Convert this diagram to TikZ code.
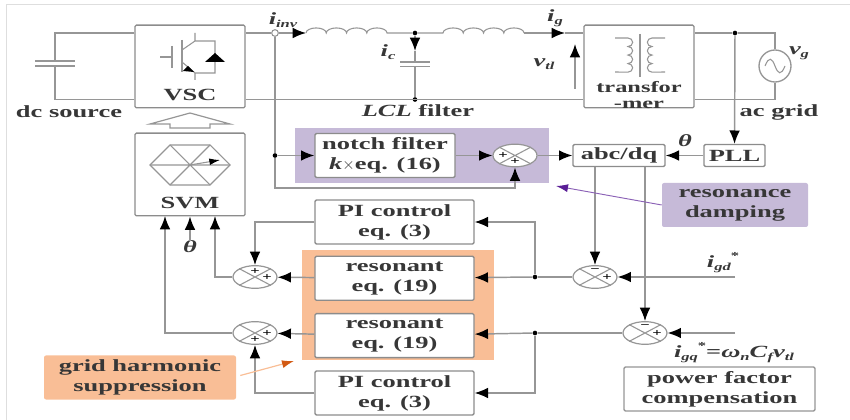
\documentclass[tikz,border=0pt]{standalone}
\usepackage{fontspec}
\setmainfont[FakeStretch=1.55]{Liberation Serif}
\usepackage{xcolor}
\definecolor{inkdark}{RGB}{55,55,55}
\definecolor{linegray}{RGB}{150,150,150}
\definecolor{boxgray}{RGB}{140,140,140}
\definecolor{framegray}{RGB}{222,222,222}
\definecolor{dampfill}{RGB}{198,186,216}
\definecolor{suppfill}{RGB}{249,190,150}
\definecolor{damptip}{RGB}{90,30,150}
\definecolor{supptip}{RGB}{210,90,20}
\usetikzlibrary{arrows.meta,positioning,shapes.geometric}
\newcommand{\varlbl}[2]{{\bfseries\itshape #1}\raisebox{-.4ex}{\footnotesize\bfseries\itshape #2}}
\newcommand{\sumcross}[1]{\draw[thinwire] (#1.north west) -- (#1.south east) (#1.north east) -- (#1.south west);}
\tikzset{
  wire/.style={draw=linegray,line width=1.1pt},
  thinwire/.style={draw=linegray,line width=.8pt},
  flow/.style={wire,-{Latex[black,length=10pt,width=8pt]}},
  lbl/.style={font=\fontsize{12.8}{15}\selectfont\bfseries,text=inkdark,inner sep=0pt,align=center},
  ctrl/.style={lbl,draw=boxgray,line width=1pt,fill=white,rounded corners=1pt,minimum width=119.25pt,minimum height=33pt},
  power/.style={ctrl,minimum width=82.5pt,minimum height=62pt},
  zone/.style={inner sep=0pt,anchor=north west},
  callout/.style={lbl,rounded corners=1.5pt,minimum height=33pt},
  sumpt/.style={ellipse,draw=linegray,line width=.9pt,fill=white,minimum width=33pt,minimum height=17pt,inner sep=0pt},
  dot/.style={circle,fill=black,inner sep=0pt,minimum size=3.5pt},
  sign/.style={font=\fontsize{8}{8}\selectfont\bfseries,text=black,inner sep=0pt},
}
\begin{document}
\begin{tikzpicture}[x=.75pt,y=-.75pt]
\useasboundingbox (0,0) rectangle (850,420);
\draw[framegray,line width=.8pt] (6.5,420) -- (6.5,4.5) -- (850,4.5);
% shaded groups
\node[zone,fill=dampfill,minimum width=190.5pt,minimum height=41.25pt] (dampzone) at (295,128) {};
\node[zone,fill=suppfill,minimum width=144pt,minimum height=82.5pt] (suppzone) at (302,250) {};
% power stage
\node[power] (vsc) at (190,66.5) {};
\node[lbl] (vsclbl) at (190,95) {VSC};
\node[power] (svm) at (190,174.5) {};
\node[lbl] (svmlbl) at (190,203) {SVM};
\node[power] (xfmr) at (639,66.5) {};
\node[lbl,font=\fontsize{11.8}{11.5}\selectfont\bfseries] (xfmrlbl) at (639,95) {transfor\\-mer};
\node[lbl] (dclbl) at (69,112) {dc source};
\node[lbl] (lcllbl) at (418,111) {\textit{LCL} filter};
\node[lbl] (aclbl) at (779,112) {ac grid};
\node[circle,draw=linegray,line width=1pt,minimum size=24pt,inner sep=0pt] (acsrc) at (775,66) {};
\node[circle,draw=linegray,line width=.8pt,fill=white,inner sep=0pt,minimum size=5pt] (tap) at (275,33) {};
\node[dot] (jcap) at (415,33) {};
\node[dot] (jret) at (415,99.5) {};
\node[dot] (jgrid) at (735,33) {};
\node[dot] (jnotch) at (275,155.5) {};
\node[lbl] (iinv) at (283,20) {\varlbl{i}{inv}};
\node[lbl] (ig) at (555,18) {\varlbl{i}{g}};
\node[lbl] (ic) at (388,52) {\varlbl{i}{c}};
\node[lbl] (vtl) at (544,64) {\varlbl{v}{tl}};
\node[lbl] (vg) at (799,53) {\varlbl{v}{g}};
% control blocks
\node[ctrl,minimum width=105pt] (notch) at (385,155.5) {notch filter\\\textit{k}$\times$eq. (16)};
\node[sumpt] (sumn) at (515,155.5) {};
\node[ctrl,minimum width=69pt,minimum height=16.5pt] (abcdq) at (619,155.5) {abc/dq};
\node[ctrl,minimum width=45.75pt,minimum height=16.5pt] (pll) at (734.5,155.5) {PLL};
\node[lbl] (thpll) at (685,141) {\textit{θ}};
\node[ctrl] (pia) at (394.5,222) {PI control\\eq. (3)};
\node[ctrl,below=8.25pt of pia] (resa) {resonant\\eq. (19)};
\node[ctrl,below=9pt of resa] (resb) {resonant\\eq. (19)};
\node[ctrl,below=9pt of resb] (pib) {PI control\\eq. (3)};
\node[sumpt] (suma) at (255,277) {};
\node[sumpt] (sumb) at (255,333) {};
\node[sumpt] (sumc) at (595,277) {};
\node[sumpt] (sumd) at (645,333) {};
\node[dot] (jres) at (535,277) {};
\node[dot] (jpib) at (535,333) {};
\node[lbl] (thsvm) at (190,247) {\textit{θ}};
\node[lbl] (igd) at (723,263) {\varlbl{i}{gd}\raisebox{1ex}{\footnotesize *}};
\node[lbl] (igq) at (734,353) {\varlbl{i}{gq}\raisebox{1ex}{\footnotesize *}{\bfseries =}\textit{ω}\raisebox{-.4ex}{\footnotesize\itshape n}\textit{C}\raisebox{-.4ex}{\footnotesize\itshape f}\varlbl{v}{tl}};
\node[ctrl,draw=linegray,minimum width=143.25pt] (pfc) at (719.5,389) {power factor\\compensation};
\node[callout,fill=dampfill,minimum width=109.5pt] (dampnote) at (735,205) {resonance\\damping};
\node[callout,fill=suppfill,minimum width=144pt] (suppnote) at (140,377.5) {grid harmonic\\suppression};
\foreach \s in {sumn,suma,sumb,sumc,sumd}{\sumcross{\s}}
\node[sign] (sna) at (503,155) {+};
\node[sign] (snb) at (515,161.5) {+};
\node[sign] (saa) at (255,271) {+};
\node[sign] (sab) at (267,277) {+};
\node[sign] (sba) at (267,333) {+};
\node[sign] (sbb) at (255,339) {+};
\node[sign] (sca) at (595,270.5) {−};
\node[sign] (scb) at (607,277) {+};
\node[sign] (sda) at (645,326.5) {−};
\node[sign] (sdb) at (657,333) {+};
% dc side
\coordinate (dcplus) at (55,61);
\coordinate (dcminus) at (55,66);
\draw[wire] (vsc.west |- tap) -- (55,33) -- (dcplus);
\draw[wire] (vsc.west |- jret) -- (55,99.5) -- (dcminus);
\draw[wire] (35,61) -- (75,61) (35,66) -- (75,66);
% ac side with both inductors
\coordinate (lfa) at (306,33);
\coordinate (lfb) at (443,33);
\draw[wire] (vsc.east |- tap) -- (tap);
\draw[flow] (tap) -- (lfa);
\draw[thinwire] (lfa) arc[start angle=180,end angle=0,x radius=7.6pt,y radius=3.8pt] arc[start angle=180,end angle=0,x radius=7.6pt,y radius=3.8pt] arc[start angle=180,end angle=0,x radius=7.6pt,y radius=3.8pt] arc[start angle=180,end angle=0,x radius=7.6pt,y radius=3.8pt] -- (jcap);
\draw[thinwire] (jcap) -- (lfb) arc[start angle=180,end angle=0,x radius=7.6pt,y radius=3.8pt] arc[start angle=180,end angle=0,x radius=7.6pt,y radius=3.8pt] arc[start angle=180,end angle=0,x radius=7.6pt,y radius=3.8pt] arc[start angle=180,end angle=0,x radius=7.6pt,y radius=3.8pt] coordinate (lfc);
\coordinate (igtip) at (565,33);
\draw[flow] (lfc) -- (igtip);
\draw[wire] (igtip) -- (xfmr.west |- tap);
\draw[wire] (vsc.east |- jret) -- (xfmr.west |- jret);
\draw[flow] (jcap) -- (415,51);
\draw[wire] (415,51) -- (415,62);
\draw[wire] (415,66.5) -- (jret);
\draw[wire] (400,62) -- (430,62) (400,66.5) -- (430,66.5);
\coordinate (vtla) at (575,89);
\coordinate (vtlb) at (575,44);
\draw[flow] (vtla) -- (vtlb);
\draw[wire] (xfmr.east |- jgrid) -- (jgrid) -- (775,33) -- (acsrc);
\draw[wire] (acsrc) -- (775,99.5) -- (xfmr.east |- jret);
\draw[thinwire] (765,66) .. controls (769,56) and (772,58) .. (775,66) .. controls (778,74) and (781,76) .. (785,66);
% igbt
\draw[thinwire] (160,57) -- (172,57) (172,46) -- (172,68) (182,40) -- (182,72);
\draw[thinwire] (195,33) -- (195,41) -- (182,50) (195,41) -- (215,41) -- (215,73) -- (195,73) -- (182,62) (195,73) -- (195,80);
\fill[black] (215,53) -- (225,62) -- (205,62) -- cycle;
\fill[black] (194,72) -- (183,71) -- (188,66) -- cycle;
% transformer
\draw[thinwire] (615,38) -- (628,38) arc[start angle=90,end angle=-90,x radius=3.5pt,y radius=3.2pt] arc[start angle=90,end angle=-90,x radius=3.5pt,y radius=3.2pt] arc[start angle=90,end angle=-90,x radius=3.5pt,y radius=3.2pt] arc[start angle=90,end angle=-90,x radius=3.5pt,y radius=3.2pt] -- (615,72);
\draw[thinwire] (665,38) -- (652,38) arc[start angle=90,end angle=270,x radius=3.5pt,y radius=3.2pt] arc[start angle=90,end angle=270,x radius=3.5pt,y radius=3.2pt] arc[start angle=90,end angle=270,x radius=3.5pt,y radius=3.2pt] arc[start angle=90,end angle=270,x radius=3.5pt,y radius=3.2pt] -- (665,72);
\draw[linegray,line width=1.5pt] (640,34) -- (640,77);
% svm inside
\draw[thinwire] (150,165) -- (170,145) -- (210,145) -- (230,165) -- (210,185) -- (170,185) -- cycle;
\draw[thinwire] (150,165) -- (230,165) (170,145) -- (210,185) (210,145) -- (170,185);
\coordinate (svmc) at (190,165);
\coordinate (svmv) at (220,160);
\draw[thinwire,-{Latex[black,length=8pt,width=5pt]}] (svmc) -- (svmv);
\draw[linegray,line width=.9pt] (190,113) -- (230,124) -- (210,124) -- (210,128) -- (170,128) -- (170,124) -- (150,124) -- cycle;
% feedback and references
\draw[flow] (jgrid) -- (pll);
\draw[flow] (pll) -- (abcdq);
\draw[wire] (tap) -- (jnotch);
\draw[flow] (jnotch) -- (notch);
\coordinate (sense) at (275,188);
\draw[flow] (jnotch) -- (sense) -| (sumn);
\draw[flow] (notch) -- (sumn);
\draw[flow] (sumn) -- (abcdq);
\draw[flow] (abcdq.south -| sumc) -- (sumc);
\draw[flow] (abcdq.south -| sumd) -- (sumd);
\coordinate (igdin) at (735,277);
\coordinate (igqin) at (735,333);
\draw[flow] (igdin) -- (sumc);
\draw[flow] (igqin) -- (sumd);
\draw[wire] (sumc) -- (jres);
\draw[wire] (sumd) -- (jpib);
\draw[flow] (jres) -- (resa);
\draw[flow] (jpib) -- (resb);
\draw[flow] (jres) |- (pia);
\draw[flow] (jpib) |- (pib);
\draw[flow] (resa) -- (suma);
\draw[flow] (resb) -- (sumb);
\draw[flow] (pia) -| (suma);
\draw[flow] (pib) -| (sumb);
\coordinate (svma) at (215,216);
\coordinate (svmb) at (165,216);
\draw[flow] (suma) -| (svma);
\draw[flow] (sumb) -| (svmb);
\draw[flow] (thsvm) -- (svm);
% notes
\coordinate (damptipc) at (556,186);
\coordinate (supptipc) at (294,361);
\draw[damptip!70,line width=.7pt,-{Latex[damptip,length=9pt,width=6pt]}] (dampnote.west) -- (damptipc);
\draw[suppfill,line width=.9pt,-{Latex[supptip,length=9pt,width=6pt]}] (suppnote.east) ++(4,-2) -- (supptipc);
\end{tikzpicture}
\end{document}
